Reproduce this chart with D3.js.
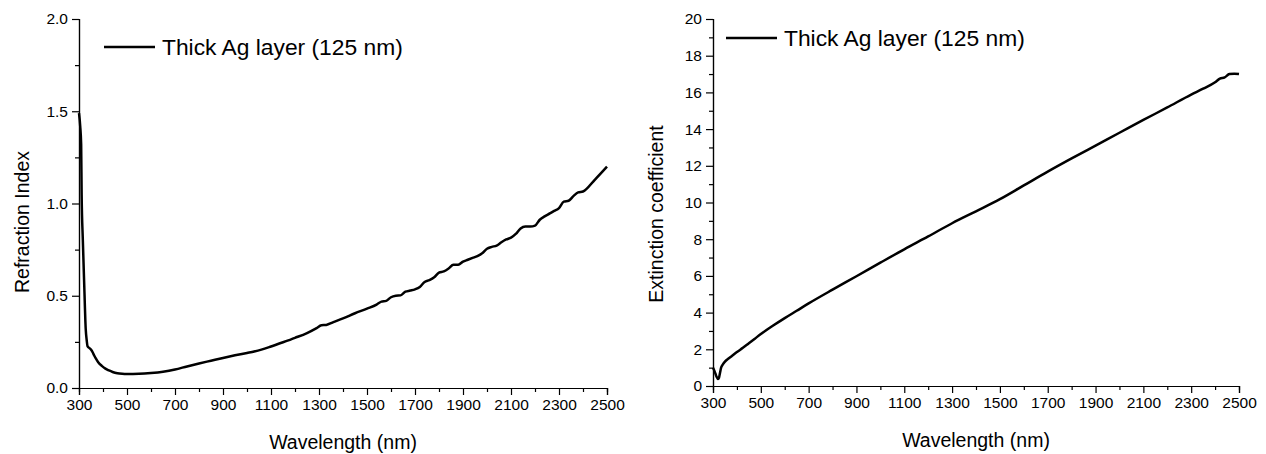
<!DOCTYPE html>
<html>
<head>
<meta charset="utf-8">
<script src="https://cdn.jsdelivr.net/npm/d3@7"></script>
<style>
  body { margin: 0; background: #fff; }
  text { font-family: "Liberation Sans", Arial, sans-serif; fill: #000; }
</style>
</head>
<body>
<script>
const WIDTH = 1266;
const HEIGHT = 454;
const LEGEND_LABEL = 'Thick Ag layer (125 nm)';
const X_TITLE = 'Wavelength (nm)';

// Refraction index n(lambda).
const n_wavelength = [300, 305, 309, 311, 316, 322, 328, 332, 336, 345, 352, 360, 370, 380, 395, 410, 425, 440, 460, 480,
    500, 550, 600, 650, 700, 750, 800, 850, 900, 950, 1000, 1030, 1060, 1100, 1150, 1200, 1250, 1290, 1310, 1330,
    1360, 1400, 1450, 1500, 1540, 1560, 1580, 1600, 1620, 1640, 1660, 1680, 1700, 1720, 1740, 1760, 1780, 1800,
    1820, 1840, 1860, 1880, 1900, 1920, 1940, 1960, 1980, 2000, 2020, 2040, 2060, 2080, 2100, 2120, 2140, 2160,
    2180, 2200, 2220, 2240, 2260, 2280, 2300, 2320, 2340, 2360, 2380, 2400, 2450, 2500];
const n_values = [1.49, 1.42, 1.32, 1.05, 0.8, 0.55, 0.32, 0.26, 0.225, 0.215, 0.205, 0.185, 0.16, 0.14, 0.12, 0.105, 0.095, 0.087, 0.08, 0.077,
    0.076, 0.077, 0.081, 0.088, 0.1, 0.117, 0.133, 0.148, 0.163, 0.177, 0.19, 0.198, 0.208, 0.225, 0.248, 0.272, 0.298, 0.325, 0.34, 0.342,
    0.357, 0.377, 0.405, 0.43, 0.452, 0.468, 0.472, 0.492, 0.5, 0.502, 0.522, 0.528, 0.535, 0.548, 0.575, 0.585, 0.6, 0.625,
    0.632, 0.648, 0.668, 0.668, 0.685, 0.695, 0.705, 0.715, 0.73, 0.755, 0.765, 0.772, 0.79, 0.805, 0.815, 0.835, 0.865, 0.875,
    0.875, 0.88, 0.912, 0.93, 0.945, 0.96, 0.975, 1.01, 1.015, 1.04, 1.06, 1.065, 1.13, 1.2];

// Extinction coefficient k(lambda).
const k_wavelength = [300, 305, 310, 315, 321, 325, 329, 334, 340, 350, 365, 380, 400, 425, 450, 475, 500, 550, 600, 650,
    700, 800, 900, 1000, 1100, 1200, 1300, 1400, 1500, 1600, 1700, 1800, 1900, 2000, 2100, 2200, 2300, 2350,
    2400, 2420, 2440, 2460, 2480, 2500];
const k_values = [1.0, 0.85, 0.68, 0.5, 0.38, 0.45, 0.7, 1.0, 1.15, 1.33, 1.5, 1.65, 1.85, 2.08, 2.33, 2.58, 2.83, 3.28, 3.7, 4.1,
    4.5, 5.25, 5.98, 6.72, 7.45, 8.15, 8.87, 9.52, 10.18, 10.93, 11.68, 12.4, 13.1, 13.8, 14.5, 15.18, 15.88, 16.2,
    16.55, 16.75, 16.82, 17.0, 17.02, 17.0];

const x_major = [300, 500, 700, 900, 1100, 1300, 1500, 1700, 1900, 2100, 2300, 2500];
const x_minor = [400, 600, 800, 1000, 1200, 1400, 1600, 1800, 2000, 2200, 2400];
const n_major = [0, 0.5, 1.0, 1.5, 2.0];
const n_minor = [0.25, 0.75, 1.25, 1.75];
const k_major = [0, 2, 4, 6, 8, 10, 12, 14, 16, 18, 20];
const k_minor = [1, 3, 5, 7, 9, 11, 13, 15, 17, 19];

var svg = d3.select('body')
    .append('svg')
    .attr('width', WIDTH)
    .attr('height', HEIGHT);

draw_panel({
    left: 79, right: 607, top: 19, bottom: 388,
    y_domain: [0, 2], y_major: n_major, y_minor: n_minor, y_format: d3.format('.1f'),
    y_title: 'Refraction Index', y_title_x: 29, y_title_y: 222,
    xs: n_wavelength, ys: n_values,
    legend_x: 104, legend_y: 47
});

draw_panel({
    left: 713, right: 1239, top: 19, bottom: 386,
    y_domain: [0, 20], y_major: k_major, y_minor: k_minor, y_format: d3.format('d'),
    y_title: 'Extinction coefficient', y_title_x: 663, y_title_y: 214,
    xs: k_wavelength, ys: k_values,
    legend_x: 726, legend_y: 38
});

function draw_panel(p) {
    const x = d3.scaleLinear().domain([300, 2500]).range([p.left, p.right]);
    const y = d3.scaleLinear().domain(p.y_domain).range([p.bottom, p.top]);
    const g = svg.append('g');

    // minor ticks first, then major axis on top.
    g.append('g')
        .attr('transform', `translate(0,${p.bottom})`)
        .call(d3.axisBottom(x).tickValues(x_minor).tickSize(4).tickFormat(''));
    g.append('g')
        .attr('transform', `translate(0,${p.bottom})`)
        .call(d3.axisBottom(x).tickValues(x_major).tickSize(7).tickPadding(4).tickFormat(d3.format('d')))
        .call(a => a.selectAll('text').attr('font-size', 15.5).attr('dy', '0.72em'));

    g.append('g')
        .attr('transform', `translate(${p.left},0)`)
        .call(d3.axisLeft(y).tickValues(p.y_minor).tickSize(4).tickFormat(''));
    g.append('g')
        .attr('transform', `translate(${p.left},0)`)
        .call(d3.axisLeft(y).tickValues(p.y_major).tickSize(7).tickPadding(4).tickFormat(p.y_format))
        .call(a => a.selectAll('text').attr('font-size', 15.5));

    g.selectAll('.domain').attr('stroke', '#000').attr('stroke-width', 1.2);
    g.selectAll('.tick line').attr('stroke', '#000').attr('stroke-width', 1.2);
    g.selectAll('.tick text').attr('font-family', '"Liberation Sans", Arial, sans-serif').attr('fill', '#000');

    const pts = p.xs.map((v, i) => [v, p.ys[i]]);
    const line = d3.line().x(d => x(d[0])).y(d => y(d[1])).curve(d3.curveMonotoneX);
    g.append('path')
        .datum(pts)
        .attr('d', line)
        .attr('fill', 'none')
        .attr('stroke', '#000')
        .attr('stroke-width', 2.5)
        .attr('stroke-linejoin', 'round');

    // Axis titles.
    g.append('text')
        .attr('x', (p.left + p.right) / 2)
        .attr('y', p.bottom + 61)
        .attr('text-anchor', 'middle')
        .attr('font-size', 19.5)
        .text(X_TITLE);
    g.append('text')
        .attr('transform', `translate(${p.y_title_x},${p.y_title_y}) rotate(-90)`)
        .attr('text-anchor', 'middle')
        .attr('font-size', 19.5)
        .text(p.y_title);

    // Legend.
    g.append('line')
        .attr('x1', p.legend_x).attr('x2', p.legend_x + 51)
        .attr('y1', p.legend_y).attr('y2', p.legend_y)
        .attr('stroke', '#000')
        .attr('stroke-width', 2.5);
    g.append('text')
        .attr('x', p.legend_x + 58)
        .attr('y', p.legend_y + 8)
        .attr('font-size', 22.8)
        .text(LEGEND_LABEL);
}
</script>
</body>
</html>
